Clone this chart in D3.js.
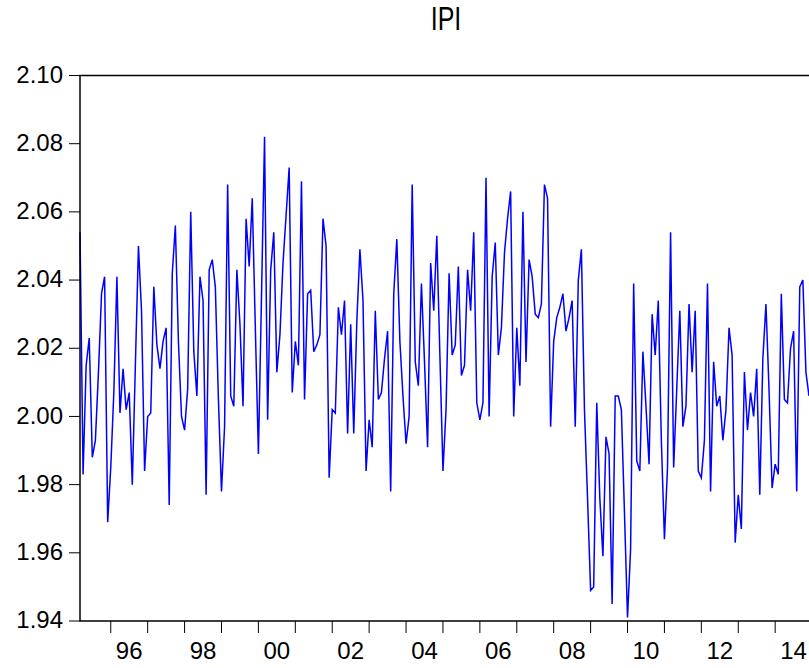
<!DOCTYPE html>
<html>
<head>
<meta charset="utf-8">
<script src="https://cdn.jsdelivr.net/npm/d3@7"></script>
<style>
  body { margin: 0; overflow: hidden; background: #fff; }
  text { font-family: Arial, "Liberation Sans", sans-serif; fill: #000; }
</style>
</head>
<body>
<div id="wrapper"></div>
<script>
// monthly series, first observation 1995M03
const startYear = 1995
const startMonth = 3
const values = [
  2.054, 1.983, 2.015, 2.023, 1.988, 1.993, 2.013, 2.036, 2.041, 1.969,
  1.985, 2.007, 2.041, 2.001, 2.014, 2.002, 2.007, 1.980, 2.015, 2.050,
  2.031, 1.984, 2.000, 2.001, 2.038, 2.021, 2.014, 2.022, 2.026, 1.974,
  2.042, 2.056, 2.022, 2.000, 1.996, 2.008, 2.060, 2.019, 2.006, 2.041,
  2.034, 1.977, 2.043, 2.046, 2.038, 2.005, 1.978, 1.997, 2.068, 2.006,
  2.003, 2.043, 2.027, 2.003, 2.058, 2.044, 2.064, 2.026, 1.989, 2.035,
  2.082, 1.999, 2.043, 2.054, 2.013, 2.024, 2.045, 2.059, 2.073, 2.007,
  2.022, 2.015, 2.069, 2.005, 2.036, 2.037, 2.019, 2.021, 2.024, 2.058,
  2.050, 1.982, 2.002, 2.001, 2.032, 2.024, 2.034, 1.995, 2.027, 1.995,
  2.028, 2.049, 2.034, 1.984, 1.999, 1.991, 2.031, 2.005, 2.007, 2.017,
  2.025, 1.978, 2.036, 2.052, 2.022, 2.006, 1.992, 2.000, 2.068, 2.016,
  2.009, 2.039, 2.016, 1.991, 2.045, 2.031, 2.053, 2.018, 1.984, 2.002,
  2.042, 2.018, 2.021, 2.044, 2.012, 2.015, 2.043, 2.031, 2.054, 2.004,
  1.999, 2.004, 2.070, 2.000, 2.041, 2.051, 2.018, 2.026, 2.048, 2.058,
  2.066, 2.000, 2.026, 2.009, 2.060, 2.016, 2.046, 2.041, 2.030, 2.029,
  2.033, 2.068, 2.064, 1.997, 2.022, 2.029, 2.032, 2.036, 2.025, 2.029,
  2.034, 1.997, 2.040, 2.049, 2.002, 1.976, 1.949, 1.950, 2.004, 1.976,
  1.959, 1.994, 1.989, 1.945, 2.006, 2.006, 2.002, 1.972, 1.941, 1.961,
  2.039, 1.987, 1.984, 2.019, 2.003, 1.986, 2.030, 2.018, 2.034, 1.993,
  1.964, 1.985, 2.054, 1.985, 2.008, 2.031, 1.997, 2.003, 2.033, 2.013,
  2.031, 1.984, 1.982, 1.993, 2.039, 1.978, 2.016, 2.003, 2.006, 1.993,
  2.002, 2.026, 2.018, 1.963, 1.977, 1.967, 2.013, 1.996, 2.007, 2.000,
  2.014, 1.977, 2.017, 2.033, 2.008, 1.979, 1.986, 1.983, 2.036, 2.005,
  2.004, 2.020, 2.025, 1.978, 2.038, 2.040, 2.013, 2.006
]
const yTicks = [1.94, 1.96, 1.98, 2.00, 2.02, 2.04, 2.06, 2.08, 2.10]
const yearTicks = d3.range(1996, 2015)
const yearLabels = [1996, 1998, 2000, 2002, 2004, 2006, 2008, 2010, 2012, 2014]
const title = "IPI"

const timeAccessor = (d, i) => startYear + (startMonth - 1 + i) / 12
const yAccessor = d => d

let dimensions = {
  width: 809,
  height: 668,
  margin: { top: 75.5, right: 0, bottom: 47, left: 80 }
}
dimensions.boundedWidth = dimensions.width - dimensions.margin.left - dimensions.margin.right
dimensions.boundedHeight = dimensions.height - dimensions.margin.top - dimensions.margin.bottom

const wrapper = d3.select("#wrapper")
  .append("svg")
    .attr("width", dimensions.width)
    .attr("height", dimensions.height)

const bounds = wrapper.append("g")
  .attr("transform", `translate(${dimensions.margin.left}, ${dimensions.margin.top})`)

const yScale = d3.scaleLinear()
  .domain([1.94, 2.10])
  .range([dimensions.boundedHeight, 0])

const xScale = d3.scaleLinear()
  .domain([timeAccessor(null, 0), timeAccessor(null, values.length - 1)])
  .range([0, dimensions.boundedWidth])

// title (a bit taller than wide, like the source)
wrapper.append("text")
  .attr("transform", "translate(446, 30) scale(1, 1.34)")
  .attr("text-anchor", "middle")
  .style("font-size", "25px")
  .text(title)

// y axis ticks + labels
const yAxis = bounds.append("g")
yAxis.selectAll("line")
  .data(yTicks)
  .join("line")
    .attr("x1", -11)
    .attr("x2", 0)
    .attr("y1", d => yScale(d))
    .attr("y2", d => yScale(d))
    .attr("stroke", "#000")
    .attr("stroke-width", 1)
yAxis.selectAll("text")
  .data(yTicks)
  .join("text")
    .attr("x", -17)
    .attr("y", d => yScale(d))
    .attr("dy", "0.3em")
    .attr("text-anchor", "end")
    .style("font-size", "24px")
    .text(d3.format(".2f"))

// x axis ticks at year starts, labels mid-year
const xAxis = bounds.append("g")
  .attr("transform", `translate(0, ${dimensions.boundedHeight})`)
xAxis.selectAll("line")
  .data(yearTicks)
  .join("line")
    .attr("x1", d => xScale(d))
    .attr("x2", d => xScale(d))
    .attr("y1", 0)
    .attr("y2", 12)
    .attr("stroke", "#000")
    .attr("stroke-width", 1)
xAxis.selectAll("text")
  .data(yearLabels)
  .join("text")
    .attr("x", d => xScale(d + 0.5))
    .attr("y", 38)
    .attr("text-anchor", "middle")
    .style("font-size", "24px")
    .text(d => String(d % 100).padStart(2, "0"))

// series line
const lineGenerator = d3.line()
  .x((d, i) => xScale(timeAccessor(d, i)))
  .y(d => yScale(yAccessor(d)))

bounds.append("path")
  .attr("d", lineGenerator(values))
  .attr("fill", "none")
  .attr("stroke", "#0000ff")
  .attr("stroke-width", 1.5)
  .attr("stroke-linejoin", "miter")

// frame
bounds.append("rect")
  .attr("x", 0)
  .attr("y", 0)
  .attr("width", dimensions.boundedWidth + 2)
  .attr("height", dimensions.boundedHeight)
  .attr("fill", "none")
  .attr("stroke", "#000")
  .attr("stroke-width", 1.5)
</script>
</body>
</html>
